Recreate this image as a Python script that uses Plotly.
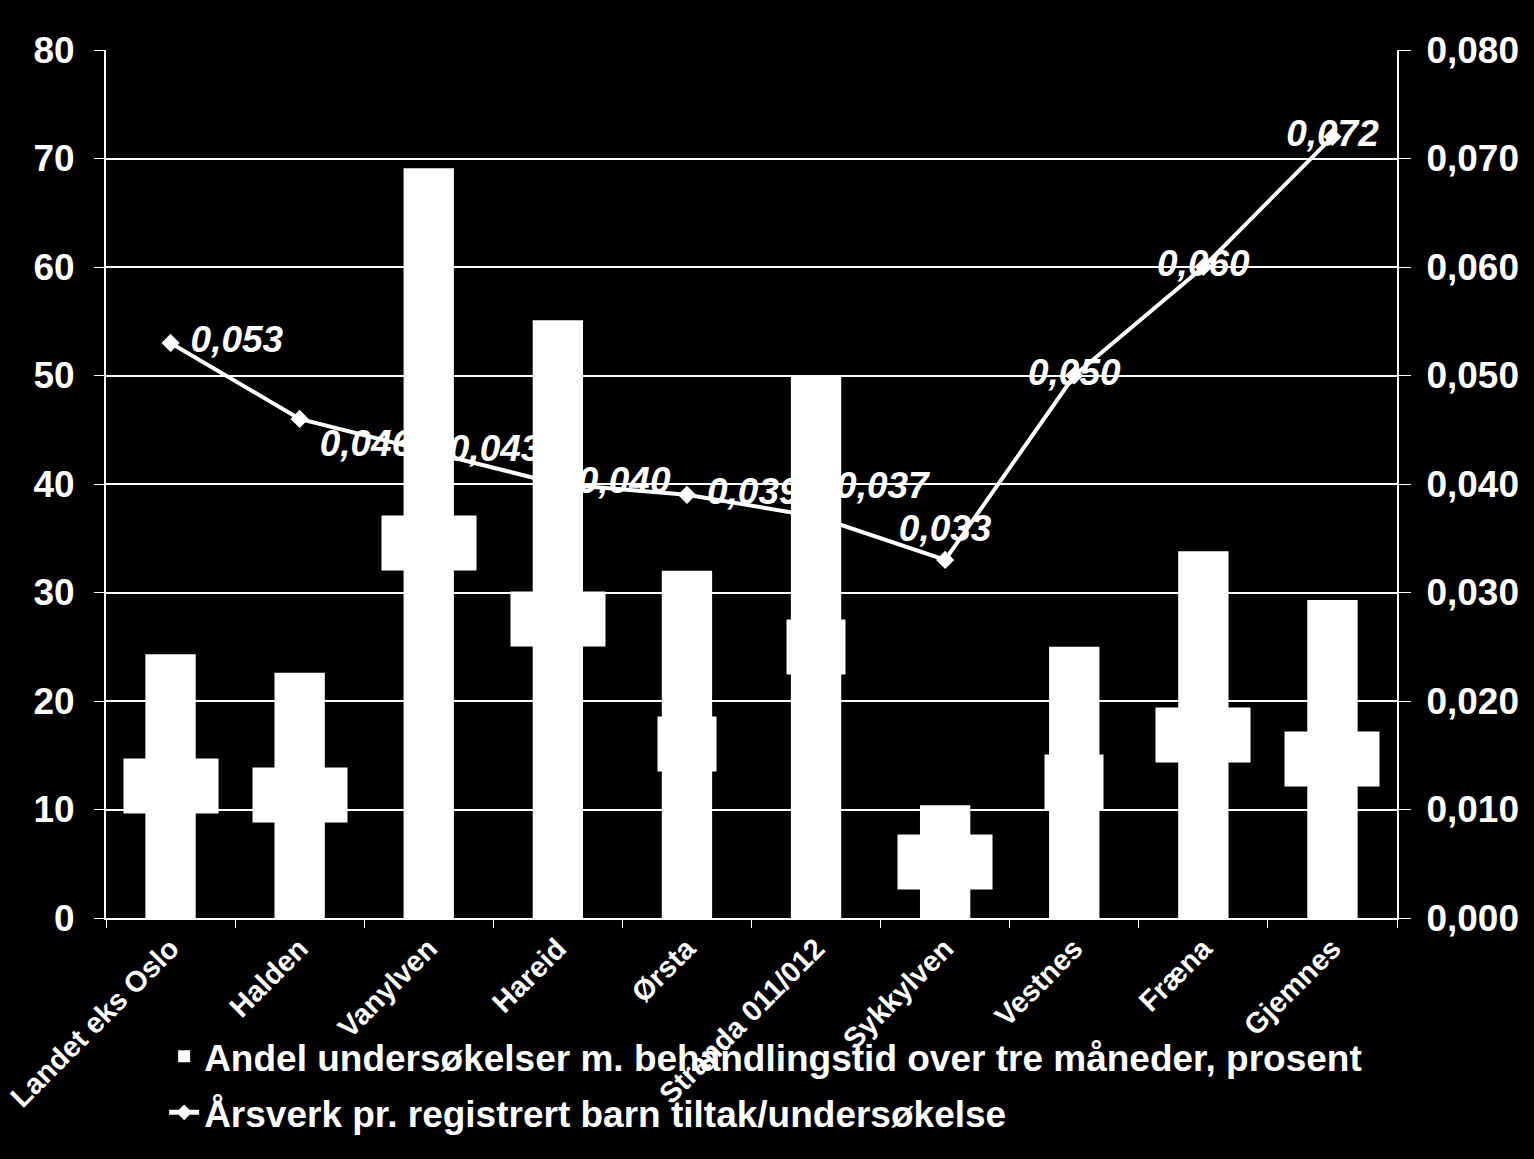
import plotly.graph_objects as go

categories = ["Landet eks Oslo", "Halden", "Vanylven", "Hareid", "Ørsta",
              "Stranda 011/012", "Sykkylven", "Vestnes", "Fræna", "Gjemnes"]
andel = [24.3, 22.6, 69.1, 55.1, 32.0, 50, 10.4, 25, 33.8, 29.3]
arsverk = [0.053, 0.046, 0.043, 0.040, 0.039, 0.037, 0.033, 0.050, 0.060, 0.072]
left_ticks = [0, 10, 20, 30, 40, 50, 60, 70, 80]
right_ticks = [0, 0.01, 0.02, 0.03, 0.04, 0.05, 0.06, 0.07, 0.08]

bar_name = "Andel undersøkelser m. behandlingstid over tre måneder, prosent"
line_name = "Årsverk pr. registrert barn tiltak/undersøkelse"

label_pos = ["middle right", "bottom right", "middle right", "middle right", "middle right",
             "top right", "top center", "middle center", "middle center", "middle center"]

FONT = "Liberation Sans, Arial, sans-serif"


def fmt_pct(v):
    if float(v).is_integer():
        return str(int(v))
    return f"{v:.1f}".replace(".", ",")


def fmt_line(v):
    return f"{v:.3f}".replace(".", ",")


fig = go.Figure()

fig.add_trace(go.Bar(
    x=categories, y=andel, name=bar_name, yaxis="y2", legendgroup="a",
    marker=dict(color="white", line=dict(width=0)),
))

fig.add_trace(go.Scatter(
    x=categories, y=arsverk, name=line_name, yaxis="y", legendgroup="b",
    mode="lines+markers+text",
    line=dict(color="white", width=4),
    marker=dict(symbol="diamond", size=14, color="white"),
    text=[" " + fmt_line(v) + " " for v in arsverk],
    textposition=label_pos,
    textfont=dict(family=FONT, size=37, color="white", weight="bold", style="italic"),
))

annotations = []
for c, v in zip(categories, andel):
    t = fmt_pct(v)
    annotations.append(dict(
        x=c, y=v / 2, xref="x", yref="y2", text=t, showarrow=False,
        font=dict(family=FONT, size=28, color="white"),
        bgcolor="white", borderpad=0,
        width=94 if len(t) > 2 else 58, height=54,
    ))

fig.update_layout(
    width=1534, height=1159,
    paper_bgcolor="black", plot_bgcolor="black",
    separators=",.",
    margin=dict(l=106, r=137, t=50, b=241, autoexpand=False),
    bargap=0.61,
    showlegend=True,
    legend=dict(
        orientation="v", xref="container", x=0.107, xanchor="left",
        yref="container", y=0.115, yanchor="top", traceorder="grouped",
        font=dict(family=FONT, size=37, color="white", weight="bold"),
        bgcolor="rgba(0,0,0,0)", itemsizing="constant", tracegroupgap=5,
    ),
    annotations=annotations,
    xaxis=dict(
        range=[-0.5, len(categories) - 0.5],
        showline=True, linecolor="white", linewidth=2,
        ticks="outside", tickcolor="white", ticklen=8, tickson="boundaries",
        tickangle=-45, automargin=False,
        tickfont=dict(family=FONT, size=29, color="white", weight="bold"),
        showgrid=False,
    ),
    yaxis=dict(
        side="right", range=[0, 0.08], tickvals=right_ticks, tickformat=".3f",
        showline=True, linecolor="white", linewidth=2, automargin=False,
        ticks="outside", tickcolor="white", ticklen=12, ticklabelstandoff=8,
        tickfont=dict(family=FONT, size=37, color="white", weight="bold"),
        showgrid=True, gridcolor="white", gridwidth=2, zeroline=False,
    ),
    yaxis2=dict(
        side="left", overlaying="y", range=[0, 80], tickvals=left_ticks,
        showline=True, linecolor="white", linewidth=2, automargin=False,
        ticks="outside", tickcolor="white", ticklen=10, ticklabelstandoff=12,
        tickfont=dict(family=FONT, size=37, color="white", weight="bold"),
        showgrid=False, zeroline=False,
    ),
)

fig.write_html(
    "out.html",
    config={"displayModeBar": False},
    post_script="document.body.style.margin='0';document.body.style.background='black';"
                "document.body.style.overflow='hidden';",
)
